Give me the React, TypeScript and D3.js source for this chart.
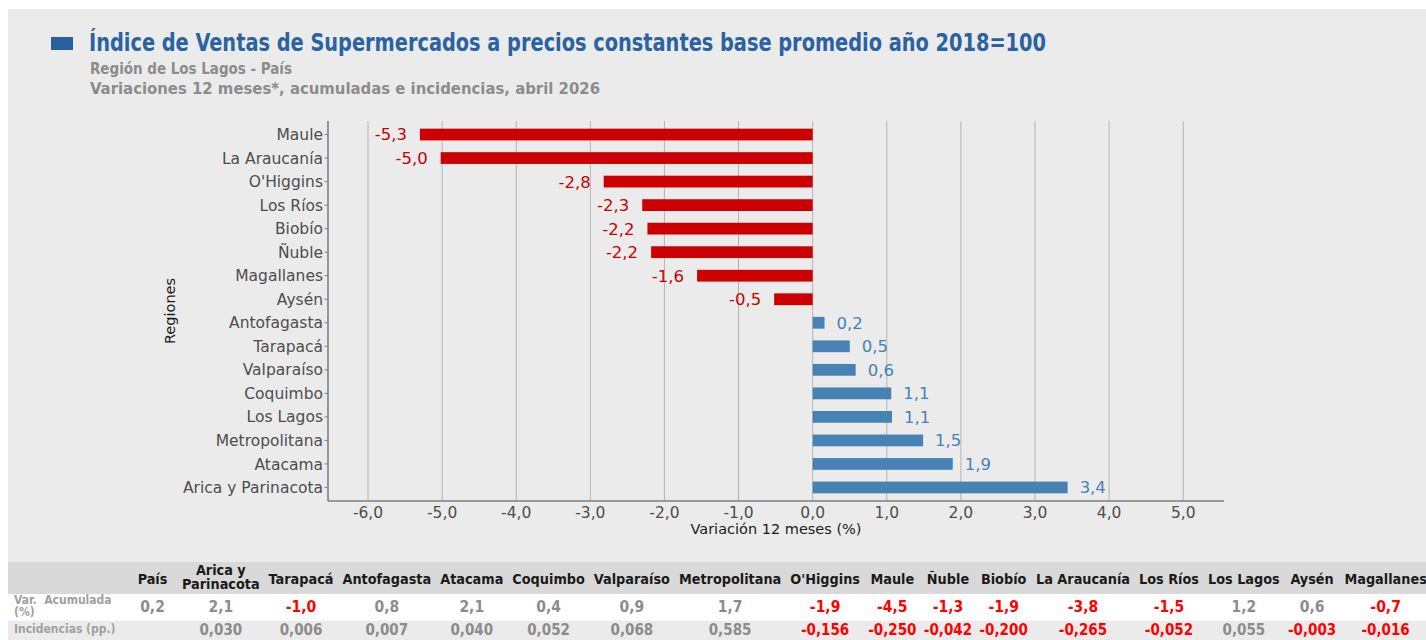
import React, { useMemo } from 'react';
import * as d3 from 'd3';

// chart: 12-month variation by region (top to bottom, as drawn)
const regions = [
  'Maule', 'La Araucanía', "O'Higgins", 'Los Ríos', 'Biobío', 'Ñuble', 'Magallanes', 'Aysén',
  'Antofagasta', 'Tarapacá', 'Valparaíso', 'Coquimbo', 'Los Lagos', 'Metropolitana', 'Atacama',
  'Arica y Parinacota',
];
const variation12 = [
  -5.3, -5.02, -2.82, -2.3, -2.23, -2.18, -1.56, -0.52,
  0.16, 0.5, 0.58, 1.06, 1.07, 1.49, 1.89, 3.44,
];
const xTickValues = [-6, -5, -4, -3, -2, -1, 0, 1, 2, 3, 4, 5];

// table under the chart
const tableColumns = [
  'País', 'Arica y\nParinacota', 'Tarapacá', 'Antofagasta', 'Atacama', 'Coquimbo', 'Valparaíso',
  'Metropolitana', "O'Higgins", 'Maule', 'Ñuble', 'Biobío', 'La Araucanía', 'Los Ríos',
  'Los Lagos', 'Aysén', 'Magallanes',
];
const accumulated = [0.2, 2.1, -1.0, 0.8, 2.1, 0.4, 0.9, 1.7, -1.9, -4.5, -1.3, -1.9, -3.8, -1.5, 1.2, 0.6, -0.7];
const incidences = [null, 0.03, 0.006, 0.007, 0.04, 0.052, 0.068, 0.585, -0.156, -0.25, -0.042, -0.2, -0.265, -0.052, 0.055, -0.003, -0.016];
const rowLabels = [['Var.  Acumulada', '(%)'], ['Incidencias (pp.)']];

const W = 1426;
const H = 640;
const RED = '#cc0000';
const BLUE = '#4682b4';
const CHART_FONT = '"DejaVu Sans", sans-serif';
const COND_FONT = '"DejaVu Sans Condensed", "DejaVu Sans", sans-serif';
const HEAD_SIZE = 14.3;
const MIN_COL = 50;

const locale = d3.formatLocale({ decimal: ',', thousands: '.', grouping: [3], currency: ['$', ''], minus: '-' });
const fmt1 = locale.format('.1f');
const fmt3 = locale.format('.3f');

const plot = { left: 328, right: 1224, top: 121, bottom: 501 };

export default function App() {
  const measure = useMemo(() => {
    const ctx = document.createElement('canvas').getContext('2d') as CanvasRenderingContext2D;
    return (text: string, size: number) => {
      ctx.font = `bold ${size}px ${COND_FONT}`;
      try { (ctx as any).fontStretch = 'condensed'; } catch (e) { /* ignore */ }
      return ctx.measureText(text).width;
    };
  }, []);

  const x = d3.scaleLinear().domain([-6.54, 5.55]).range([plot.left, plot.right]);
  const y = d3.scaleBand<string>().domain(regions).range([plot.top, plot.bottom])
    .paddingInner(0.5).paddingOuter(0.325);

  // table column layout from measured text
  const labelW = d3.max(rowLabels.flat(), (t) => measure(t, 12)) as number;
  let cursor = 8 + labelW + 18;
  const cols = tableColumns.map((name, i) => {
    const vals = [fmt1(accumulated[i]), incidences[i] == null ? '' : fmt3(incidences[i] as number)];
    const content = Math.max(...name.split('\n').map((l) => measure(l, HEAD_SIZE)), ...vals.map((v) => measure(v, 14.5)));
    const w = Math.max(MIN_COL, content + 9);
    const c = { name, cx: cursor + w / 2, vals, i };
    cursor += w;
    return c;
  });

  const valColor = (v: number | null) => (v != null && v < 0 ? '#ff0000' : '#8c8c8c');

  return (
    <div style={{ position: 'fixed', left: 0, top: 0, width: W, height: H, overflow: 'hidden', background: '#fff' }}>
      <svg width={W} height={H} style={{ display: 'block' }}>
        {/* panel */}
        <rect x={8} y={9} width={W - 8} height={562 - 9} fill="#ebebeb" />

        {/* Title */}
        <rect x={51} y={37} width={22} height={13} fill="#2a5f9e" />
        <text x={89} y={51} fontFamily={COND_FONT} style={{ fontStretch: 'condensed' }} fontWeight="bold"
          fontSize={25} fill="#2a62a2" textLength={957} lengthAdjust="spacingAndGlyphs">
          Índice de Ventas de Supermercados a precios constantes base promedio año 2018=100
        </text>
        <text x={90} y={74} fontFamily={COND_FONT} style={{ fontStretch: 'condensed' }} fontWeight="bold"
          fontSize={16.5} fill="#8c8c8c" textLength={202} lengthAdjust="spacingAndGlyphs">
          Región de Los Lagos - País
        </text>
        <text x={90} y={94} fontFamily={COND_FONT} style={{ fontStretch: 'condensed' }} fontWeight="bold"
          fontSize={16.5} fill="#8c8c8c" textLength={510} lengthAdjust="spacingAndGlyphs">
          Variaciones 12 meses*, acumuladas e incidencias, abril 2026
        </text>

        {/* Grid */}
        {xTickValues.map((t) => (
          <line key={`g${t}`} x1={x(t)} x2={x(t)} y1={plot.top} y2={plot.bottom} stroke="#b4b4b4" strokeWidth={1} />
        ))}

        {/* Bars */}
        {regions.map((r, i) => {
          const v = variation12[i];
          const col = v < 0 ? RED : BLUE;
          const cy = (y(r) as number) + y.bandwidth() / 2;
          return (
            <g key={r}>
              <rect x={Math.min(x(0), x(v))} y={y(r)} width={Math.abs(x(v) - x(0))} height={y.bandwidth()} fill={col} />
              <text x={v < 0 ? x(v) - 13 : x(v) + 12} y={cy} dy="0.36em" textAnchor={v < 0 ? 'end' : 'start'}
                fontFamily={CHART_FONT} fontSize={16.5} fill={col}>
                {fmt1(v)}
              </text>
            </g>
          );
        })}

        {/* Axes */}
        <line x1={plot.left} x2={plot.left} y1={plot.top} y2={plot.bottom} stroke="#808080" strokeWidth={1.6} />
        <line x1={plot.left} x2={plot.right} y1={plot.bottom} y2={plot.bottom} stroke="#808080" strokeWidth={1.6} />
        {regions.map((r) => {
          const cy = (y(r) as number) + y.bandwidth() / 2;
          return (
            <g key={`yt${r}`}>
              <line x1={plot.left - 3.5} x2={plot.left} y1={cy} y2={cy} stroke="#808080" strokeWidth={1} />
              <text x={plot.left - 5} y={cy} dy="0.36em" textAnchor="end" fontFamily={CHART_FONT}
                fontSize={15.5} fill="#4d4d4d">
                {r}
              </text>
            </g>
          );
        })}
        {xTickValues.map((t) => (
          <text key={`xt${t}`} x={x(t)} y={518} textAnchor="middle" fontFamily={CHART_FONT} fontSize={15.5} fill="#4d4d4d">
            {fmt1(t)}
          </text>
        ))}
        <text x={(plot.left + plot.right) / 2} y={534} textAnchor="middle" fontFamily={CHART_FONT} fontSize={14.5} fill="#1a1a1a">
          Variación 12 meses (%)
        </text>
        <text transform={`translate(175,${(plot.top + plot.bottom) / 2}) rotate(-90)`} textAnchor="middle"
          fontFamily={CHART_FONT} fontSize={14.5} fill="#1a1a1a">
          Regiones
        </text>

        {/* Table */}
        <rect x={8} y={562} width={W - 8} height={32} fill="#d9d9d9" />
        <rect x={8} y={594} width={W - 8} height={26.7} fill="#ffffff" />
        <rect x={8} y={620.7} width={W - 8} height={H - 620.7} fill="#ebebeb" />
        <g fontFamily={COND_FONT} fontWeight="bold" style={{ fontStretch: 'condensed' }}>
          <text x={14} y={604} fontSize={12} fill="#a0a0a0" style={{ whiteSpace: 'pre' }}>{rowLabels[0][0]}</text>
          <text x={14} y={615.5} fontSize={12} fill="#a0a0a0">{rowLabels[0][1]}</text>
          <text x={14} y={633} fontSize={12} fill="#a0a0a0">{rowLabels[1][0]}</text>
          {cols.map((c) => {
            const lines = c.name.split('\n');
            return (
              <g key={c.name}>
                {lines.map((l, k) => (
                  <text key={l} x={c.cx} y={lines.length === 1 ? 583.5 : 575 + k * 14} textAnchor="middle"
                    fontSize={HEAD_SIZE} fill="#1a1a1a">
                    {l}
                  </text>
                ))}
                <text x={c.cx} y={611.5} textAnchor="middle" fontSize={15.5} fill={valColor(accumulated[c.i])}>
                  {c.vals[0]}
                </text>
                <text x={c.cx} y={634.5} textAnchor="middle" fontSize={15} fill={valColor(incidences[c.i])}>
                  {c.vals[1]}
                </text>
              </g>
            );
          })}
        </g>
      </svg>
    </div>
  );
}
